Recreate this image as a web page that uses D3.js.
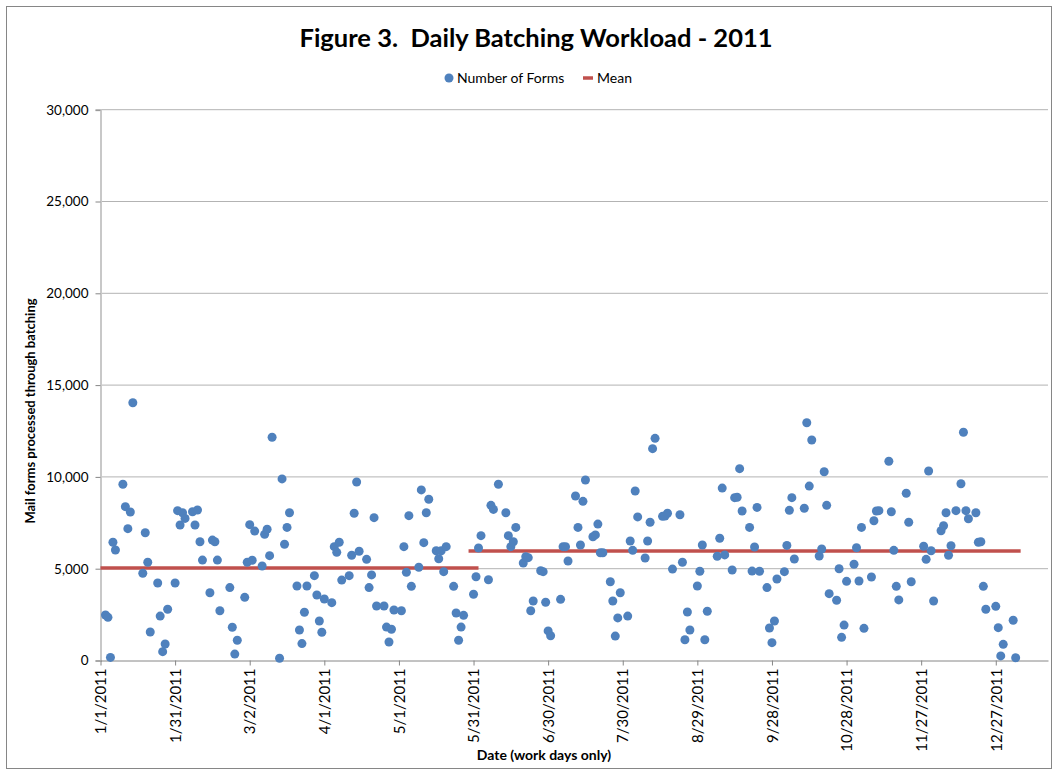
<!doctype html>
<html lang="en">
<head>
<meta charset="UTF-8">
<title>Figure 3. Daily Batching Workload - 2011</title>
<style>
  body { margin: 0; background: #fff; }
  svg text { font-family: Lato, "Open Sans", sans-serif; fill: #000; }
</style>
</head>
<body>
<svg></svg>
<script src="https://d3js.org/d3.v7.min.js"></script>
<script>
const width = 1053;
const height = 770;
const startDate = new Date(2011, 0, 1);

// work days, as days since 1/1/2011
const dayOffsets = [
  2, 3, 4, 5, 6, 9, 10, 11, 12, 13, 17, 18, 19, 20, 23, 24, 25, 26, 27, 30, 31, 32, 33, 34, 37, 38, 39, 40, 41, 44, 45, 46, 47, 48,
  52, 53, 54, 55, 58, 59, 60, 61, 62, 65, 66, 67, 68, 69, 72, 73, 74, 75, 76, 79, 80, 81, 82, 83, 86, 87, 88, 89, 90, 93, 94, 95, 96,
  97, 100, 101, 102, 103, 104, 107, 108, 109, 110, 111, 114, 115, 116, 117, 118, 121, 122, 123, 124, 125, 128, 129, 130, 131, 132, 135, 136, 137, 138, 139,
  142, 143, 144, 145, 146, 150, 151, 152, 153, 156, 157, 158, 160, 163, 164, 165, 166, 167, 170, 171, 172, 173, 174, 177, 178, 179, 180, 181, 185, 186, 187, 188,
  191, 192, 193, 194, 195, 198, 199, 200, 201, 202, 205, 206, 207, 208, 209, 212, 213, 214, 215, 216, 219, 220, 221, 222, 223, 226, 227, 228, 230, 233,
  234, 235, 236, 237, 240, 241, 242, 243, 244, 248, 249, 250, 251, 254, 255, 256, 257, 258, 261, 262, 263, 264, 265, 268, 269, 270, 271, 272, 275, 276, 277, 278,
  279, 283, 284, 285, 286, 289, 290, 291, 292, 293, 296, 297, 298, 299, 300, 303, 304, 305, 306, 307, 310, 311, 312, 313, 317, 318, 319, 320, 321, 324, 325,
  326, 331, 332, 333, 334, 335, 338, 339, 340, 341, 342, 344, 346, 347, 348, 349, 352, 353, 354, 355, 356, 360, 361, 362, 363, 367, 368
];
const formCounts = [
  2480, 2350, 170, 6440, 6020, 9600, 8380, 7180, 8090, 14040, 4750, 6960, 5350, 1550, 4220, 2420, 480, 900, 2790, 4220, 8160, 7380, 8050, 7740, 8100, 7380, 8200, 6470, 5470, 3690, 6560, 6470, 5470, 2710,
  3970, 1810, 350, 1100, 3440, 5350, 7400, 5460, 7050, 5150, 6870, 7150, 5710, 12160, 120, 9890, 6330, 7250, 8050, 4060, 1660, 920, 2630, 4060, 4620, 3570, 2150, 1540, 3350, 3150, 6200, 5890, 6440,
  4380, 4620, 5730, 8020, 9720, 5950, 5510, 3970, 4660, 7780, 2970, 2970, 1820, 1010, 1700, 2750, 2710, 6200, 4800, 7890, 4040, 5080, 9290, 6420, 8050, 8780, 5980, 5540, 5980, 4840, 6200,
  4040, 2590, 1100, 1820, 2460, 3610, 4560, 6130, 6800, 4400, 8450, 8230, 9600, 8050, 6800, 6200, 6470, 7250, 5310, 5650, 5600, 2710, 3240, 4890, 4840, 3170, 1610, 1350, 3330, 6200, 6200, 5420,
  8960, 7250, 6290, 8670, 9830, 6740, 6840, 7430, 5870, 5870, 4290, 3240, 1330, 2320, 3690, 2420, 6510, 6000, 9230, 7820, 5580, 6510, 7530, 11540, 12100, 7850, 7870, 8020, 4980, 7940,
  5350, 1130, 2640, 1660, 4060, 4860, 6290, 1130, 2680, 5680, 6660, 9390, 5750, 4930, 8870, 8890, 10450, 8140, 7250, 4870, 6180, 8340, 4860, 3970, 1770, 970, 2150, 4440, 4840, 6270, 8180, 8870,
  5530, 8290, 12950, 9500, 12010, 5690, 6070, 10280, 8450, 3640, 3280, 5000, 1260, 1930, 4310, 5240, 6140, 4330, 7250, 1750, 4550, 7610, 8140, 8160, 10850, 8100, 6000, 4040, 3300, 9110, 7530,
  4290, 6220, 5510, 10320, 5980, 3240, 7070, 7340, 8050, 5730, 6250, 8160, 9630, 12430, 8160, 7720, 8050, 6440, 6470, 4040, 2790, 2950, 1790, 250, 880, 2190, 150
];

// the two mean periods
const meanStart = [0, 148];
const meanEnd = [152, 370];
const meanValues = [5040, 5960];

const yTicks = [0, 5000, 10000, 15000, 20000, 25000, 30000];
const xTickDays = [0, 30, 60, 90, 120, 150, 180, 210, 240, 270, 300, 330, 360];
const axisEndDay = 381;

const blue = '#4f81bd';
const red = '#c0504d';

const day = n => d3.timeDay.offset(startDate, n);

const svg = d3.select('svg')
              .attr('width', width).attr('height', height);

// chart border
svg.append('rect')
   .attr('x', 6.5).attr('y', 6.5)
   .attr('width', 1045).attr('height', 762)
   .attr('fill', 'none').attr('stroke', '#868686');

const x = d3.scaleTime()
            .domain([startDate, day(axisEndDay)])
            .range([100.5, 1048]);
const y = d3.scaleLinear()
            .domain([0, 30000])
            .range([660.5, 109.7]);

// gridlines
svg.append('g')
   .selectAll('line')
   .data(yTicks.slice(1))
   .enter().append('line')
   .attr('x1', x.range()[0]).attr('x2', x.range()[1])
   .attr('y1', d => y(d)).attr('y2', d => y(d))
   .attr('stroke', '#b3b3b3').attr('stroke-width', 1);

// y axis
const yAxis = svg.append('g')
                 .attr('transform', 'translate(' + x.range()[0] + ',0)')
                 .call(d3.axisLeft(y).tickValues(yTicks)
                         .tickFormat(d3.format(',')).tickSize(5).tickPadding(7));
yAxis.select('.domain').attr('stroke', '#c8c8c8').attr('stroke-width', 2);
yAxis.selectAll('.tick line').attr('stroke', '#868686');
yAxis.selectAll('text').style('font-size', '13.5px').attr('fill', '#222');

// x axis
const xAxis = svg.append('g')
                 .attr('transform', 'translate(0,' + y(0) + ')')
                 .call(d3.axisBottom(x).tickValues(xTickDays.map(day))
                         .tickFormat(d3.timeFormat('%-m/%-d/%Y')).tickSize(5).tickSizeOuter(0));
xAxis.select('.domain').attr('stroke', '#868686');
xAxis.selectAll('.tick line').attr('stroke', '#868686');
xAxis.selectAll('text')
     .style('font-size', '15px')
     .attr('fill', '#222')
     .attr('transform', 'rotate(-90)')
     .attr('text-anchor', 'end')
     .attr('x', -8).attr('y', 0).attr('dy', '0.35em');

// mean lines
svg.append('g')
   .selectAll('line')
   .data(meanValues)
   .enter().append('line')
   .attr('x1', (d, i) => x(day(meanStart[i])))
   .attr('x2', (d, i) => x(day(meanEnd[i])))
   .attr('y1', d => y(d)).attr('y2', d => y(d))
   .attr('stroke', red).attr('stroke-width', 3.5);

// points
svg.append('g')
   .selectAll('circle')
   .data(formCounts)
   .enter().append('circle')
   .attr('cx', (d, i) => x(day(dayOffsets[i])))
   .attr('cy', d => y(d))
   .attr('r', 4.5)
   .attr('fill', blue);

// title
svg.append('text')
   .attr('x', 536).attr('y', 47)
   .attr('text-anchor', 'middle')
   .style('font-size', '25.5px').style('font-weight', 'bold')
   .style('white-space', 'pre')
   .text('Figure 3.  Daily Batching Workload - 2011');

// legend
const legend = svg.append('g').attr('transform', 'translate(0,78)');
legend.append('circle').attr('cx', 449).attr('cy', 0).attr('r', 4.5).attr('fill', blue);
legend.append('text').attr('x', 457).attr('y', 0).attr('dy', '0.35em')
      .style('font-size', '14px').text('Number of Forms');
legend.append('line').attr('x1', 583).attr('x2', 593).attr('y1', 0).attr('y2', 0)
      .attr('stroke', red).attr('stroke-width', 3.5);
legend.append('text').attr('x', 597).attr('y', 0).attr('dy', '0.35em')
      .style('font-size', '14px').text('Mean');

// axis titles
svg.append('text')
   .attr('transform', 'translate(30,411) rotate(-90)')
   .attr('text-anchor', 'middle').attr('dy', '0.35em')
   .style('font-size', '13px').style('font-weight', 'bold')
   .text('Mail forms processed through batching');

svg.append('text')
   .attr('x', 544).attr('y', 760)
   .attr('text-anchor', 'middle')
   .style('font-size', '14px').style('font-weight', 'bold')
   .text('Date (work days only)');
</script>
</body>
</html>
